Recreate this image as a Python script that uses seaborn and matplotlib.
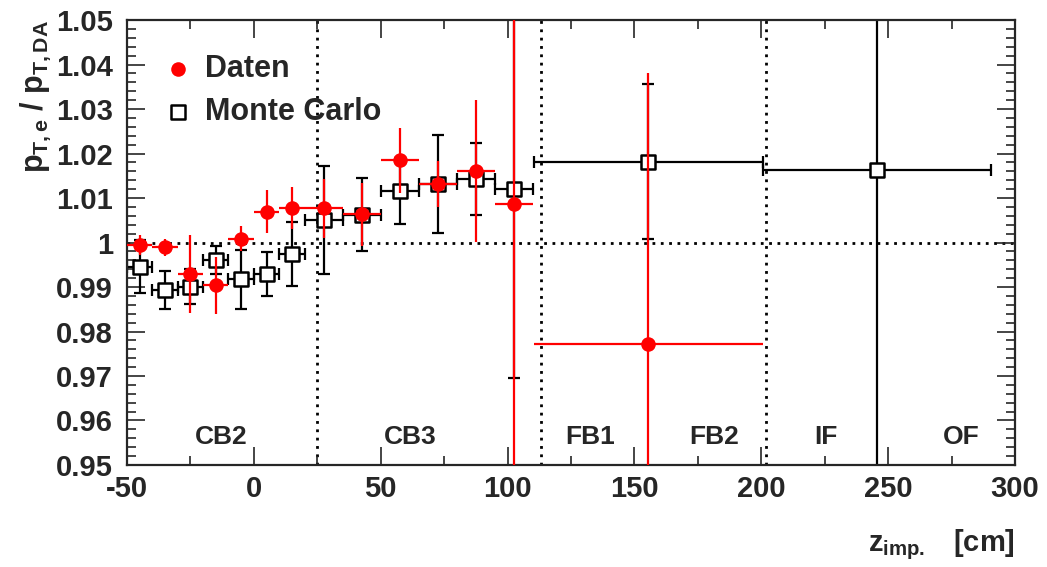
import numpy as np
import matplotlib
matplotlib.use("Agg")
import matplotlib.pyplot as plt
from matplotlib.ticker import MultipleLocator
import seaborn as sns

# Daten (red points)
data_z = [-45, -35, -25, -15, -5, 5, 15, 27.5, 42.5, 57.5, 72.5, 87.5, 102.5, 155.5]
data_zerr = [5, 5, 5, 5, 5, 5, 5, 7.5, 7.5, 7.5, 7.5, 7.5, 7.5, 45]
data_ratio = [0.9995, 0.9989, 0.9929, 0.9904, 1.0009, 1.0069, 1.0078,
              1.0077, 1.0063, 1.0185, 1.0131, 1.0161, 1.0087, 0.9773]
data_err = [0.0022, 0.0020, 0.0088, 0.0064, 0.0029, 0.0048, 0.0047,
            0.0066, 0.0070, 0.0073, 0.0052, 0.0160, 0.1000, 0.0609]

# Monte Carlo (open squares)
mc_z = [-45, -35, -25, -15, -5, 5, 15, 27.5, 42.5, 57.5, 72.5, 87.5, 102.5, 155.5, 245.7]
mc_zerr = [5, 5, 5, 5, 5, 5, 5, 7.5, 7.5, 7.5, 7.5, 7.5, 7.5, 45, 45]
mc_ratio = [0.9946, 0.9893, 0.9901, 0.9961, 0.9917, 0.9929, 0.9974,
            1.0051, 1.0062, 1.0116, 1.0131, 1.0142, 1.0120, 1.0182, 1.0163]
mc_err = [0.0060, 0.0043, 0.0040, 0.0031, 0.0066, 0.0050, 0.0071,
          0.0122, 0.0082, 0.0074, 0.0110, 0.0081, 0.0425, 0.0174, 0.1000]

# detector regions
boundaries = [25, 113, 202]
region_names = ['CB2', 'CB3', 'FB1', 'FB2', 'IF', 'OF']
region_pos = [-13, 61.5, 132.5, 181.5, 225.5, 279]

x_ticks = [-50, 0, 50, 100, 150, 200, 250, 300]
y_ticks = [0.95, 0.96, 0.97, 0.98, 0.99, 1.0, 1.01, 1.02, 1.03, 1.04, 1.05]
y_ticklabels = ['0.95', '0.96', '0.97', '0.98', '0.99', '1', '1.01',
                '1.02', '1.03', '1.04', '1.05']

sns.set_style("ticks")
plt.rcParams['font.family'] = ['Liberation Sans', 'DejaVu Sans']
plt.rcParams['font.weight'] = 'bold'
plt.rcParams['mathtext.fontset'] = 'custom'
plt.rcParams['mathtext.rm'] = 'Liberation Sans:bold'
plt.rcParams['mathtext.it'] = 'Liberation Sans:bold'
plt.rcParams['mathtext.bf'] = 'Liberation Sans:bold'
plt.rcParams['mathtext.sf'] = 'Liberation Sans'

fig, ax = plt.subplots(figsize=(10.47, 5.67), dpi=100)
fig.subplots_adjust(left=0.1213, right=0.9694, top=0.9647, bottom=0.1799)

# guide lines
for b in boundaries:
    ax.axvline(b, color='black', ls=(0, (1, 2)), lw=2, zorder=0)
ax.axhline(1.0, color='black', ls=(0, (1, 2)), lw=2, zorder=0)

# MC
ax.errorbar(mc_z, mc_ratio, xerr=mc_zerr, yerr=mc_err, fmt='none',
            ecolor='black', elinewidth=1.6, capsize=4.5, capthick=1.6, zorder=2)
sns.scatterplot(x=mc_z, y=mc_ratio, marker='s', s=95, facecolor='white',
                edgecolor='black', linewidth=1.8, zorder=3, ax=ax, label='Monte Carlo')

# Data
ax.errorbar(data_z, data_ratio, xerr=data_zerr, yerr=data_err, fmt='none',
            ecolor='red', elinewidth=1.6, capsize=0, zorder=4)
sns.scatterplot(x=data_z, y=data_ratio, marker='o', s=110, color='red',
                edgecolor='red', linewidth=0, zorder=5, ax=ax, label='Daten')

for name, pos in zip(region_names, region_pos):
    ax.text(pos, 0.9563, name, ha='center', va='center', fontsize=19, fontweight='bold')

ax.set_xlim(-50, 300)
ax.set_ylim(0.95, 1.05)
ax.set_xticks(x_ticks)
ax.set_xticklabels([str(v) for v in x_ticks])
ax.set_yticks(y_ticks)
ax.set_yticklabels(y_ticklabels)
ax.xaxis.set_minor_locator(MultipleLocator(25))
ax.yaxis.set_minor_locator(MultipleLocator(0.002))
ax.tick_params(which='both', direction='in', top=True, right=True, width=1.2,
               labelsize=21)
ax.tick_params(axis='x', pad=7)
ax.tick_params(axis='y', pad=10)
ax.tick_params(which='major', length=13)
ax.tick_params(which='minor', length=6.5)
for sp in ax.spines.values():
    sp.set_linewidth(1.6)

ax.set_ylabel(r'$p_{T,e}$ / $p_{T,DA}$', fontsize=22, fontweight='bold',
              loc='top', labelpad=2)
ax.set_xlabel(r'$z_{imp.}$   $\mathsf{[}$cm$\mathsf{]}$', fontsize=21,
              fontweight='bold', loc='right', labelpad=18)

handles, labels = ax.get_legend_handles_labels()
order = [labels.index('Daten'), labels.index('Monte Carlo')]
ax.legend([handles[i] for i in order], [labels[i] for i in order],
          loc='upper left', bbox_to_anchor=(0.026, 0.95), frameon=False,
          fontsize=22, handlelength=1.0, handletextpad=0.4,
          labelspacing=0.4, borderaxespad=0)

fig.savefig('out.png', dpi=100)
